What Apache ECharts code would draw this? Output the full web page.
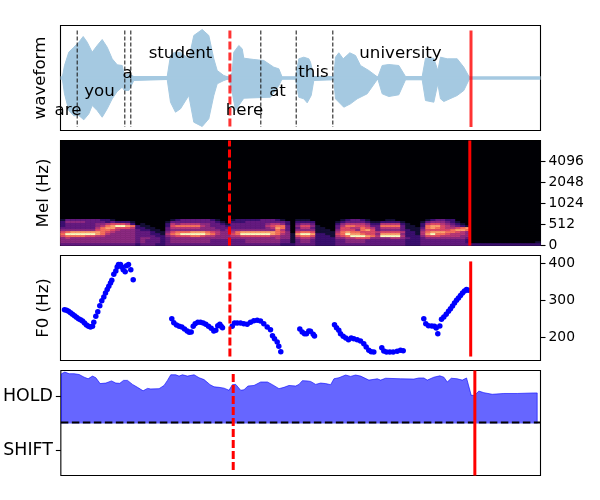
<!DOCTYPE html>
<html><head><meta charset="utf-8">
<style>html,body{margin:0;padding:0;background:#fff}#c{width:600px;height:500px}</style>
<script src="https://cdn.jsdelivr.net/npm/echarts@6/dist/echarts.min.js"></script>
</head><body><div id="c"></div>
<script>
// time axis in frames, 0..480
const waveUpper=[[1.7,0],[4,12.5],[8.3,25.8],[13.3,30.8],[18.3,35.8],[22.7,41.5],[26.7,35.8],[31.7,25.8],[36.7,32.5],[41.7,38.5],[46.7,30.8],[51.7,19.2],[56.7,13.2],[61.7,12.5],[64,2.5],[68.3,4.2],[73.3,1.5],[106.7,1.5],[110,22.5],[113.3,25.2],[120,25.8],[128.3,19.2],[133.3,42.5],[141.7,48.5],[148.3,42.5],[153.3,19.2],[156.7,7.5],[163.3,2.5],[168.3,0.8],[171.7,5.8],[173.3,25.8],[178.3,32.5],[181.7,29.2],[183.3,19.8],[193.3,18.5],[203.3,17.5],[213.3,10.8],[218.3,9.2],[221.7,0.8],[235,0.8],[238.3,19.2],[243.3,20.8],[248.3,19.2],[250,15.8],[253.3,1.5],[273.3,1.5],[275,20.8],[278.3,25.2],[282.7,19.2],[289.3,25.2],[295,22.5],[300,12.5],[308.3,7.5],[317.3,0.8],[321.7,12.5],[328.3,13.5],[338.3,12.5],[345,1.5],[361.7,1.5],[365,19.8],[373.3,19.8],[377.3,7.5],[380,20.8],[386.7,19.2],[396.7,19.2],[403.3,10.8],[409.3,0]];
const waveLower=[[1.7,0],[4,-15.8],[8.3,-32.5],[13.3,-37.8],[18.3,-37.5],[23.3,-41.8],[28.3,-35.8],[31.7,-27.5],[36.7,-32.5],[41.7,-39.2],[46.7,-30.8],[51.7,-20.8],[56.7,-13.5],[61.7,-9.2],[64,-12.5],[68.3,-12.5],[73.3,-2.5],[106.7,-1.5],[110,-24.2],[115,-34.2],[120,-30.8],[128.3,-17.5],[133.3,-44.2],[141.7,-48.5],[148.3,-40.8],[153.3,-17.5],[156.7,-5.8],[163.3,-2.5],[168.3,-0.8],[171.7,-14.2],[175,-32.5],[178.3,-27.5],[183.3,-20.2],[210,-19.2],[218.3,-7.5],[221.7,-0.8],[235,-0.8],[238.3,-19.2],[243.3,-20.8],[246.7,-24.8],[250.7,-17.5],[253.3,-2.5],[273.3,-1.8],[275,-20.8],[283.3,-29.2],[290,-25.8],[296.7,-20.8],[306.7,-15.8],[317.3,-0.8],[321.7,-15.8],[328.3,-18.5],[338.3,-16.8],[345,-1.8],[361.7,-1.8],[365,-22.5],[373.3,-24.2],[377.3,-5.8],[380,-20.8],[383.3,-23.5],[396.7,-17.5],[403.3,-12.5],[409.3,0]];
const waveSilence=[[0,0],[480,0]];
const wordNames=['are','you','a','student','here','at','this','university'];
const wordX=[7.5,39,67,120,184,217,253,340];
const wordAmp=[-32.5,-13.5,4.5,24.5,-32.5,-13.5,5.5,24.5];
const wordBounds=[16.7,64.3,70.3,200.3,235.7,272.3];
const ampRange=[-52.5,52.5];

// mel spectrogram intensity, top row first, grouped by speech segment (0 dark .. 9 bright)
const melRows=[
'1333333322100000 00000 0123333332100 122222333210 0 1110 0000 01233210 001100 000 0123322000 00000000000000',
'2444433332322210 00000 1333333333210 222333333332 0 2222 0000 12333321 122221 000 1344432100 00000000000000',
'2333333445666520 10000 2545555443321 333333345542 0 3443 0000 24555542 255552 100 2566543210 00000000000000',
'2333333457899872 11000 2677777543332 333333356773 0 4664 1000 35776653 377773 110 2788654321 00000000000000',
'3333333578866652 21100 3555555444333 333333345873 0 3553 1100 36655765 355553 111 3787655678 00000000000000',
'4444444677654443 22110 3444444444434 444444444753 0 4444 1110 46664786 344443 211 4666667887 00000000000000',
'6788888876544443 33211 4677788876544 578888888764 0 6776 1111 57877666 566665 221 5788877654 00000000000000',
'7999999875444443 33221 5789999987544 679999998754 1 8998 2211 67988766 488884 221 5897765554 00000000000000',
'6777766554444443 33322 4566677655444 556666665544 1 6776 2221 56799987 599995 222 4666555544 00000000000000',
'4544444444444443 44332 3444444444444 444444444544 1 4554 2222 44556664 444554 322 3444444443 00000000000000',
'4444444444444443 43332 3444444443333 333444444433 1 3443 2222 33444433 333333 222 3333333332 00000000000000',
'4444444444444443 43332 3444444443333 333444444433 1 3443 2222 33444433 333333 222 3333333332 00000000000001',
'3333333333333332 33322 3333333333333 333333333322 2 3333 2222 33333333 333333 222 3333333333 22222222222222'
];
const melTickPos=[0,21.5,42,63,84];
const melTickLabels=['0','512','1024','2048','4096'];
const magma=['#000004','#140e36','#3b0f70','#641a80','#8c2981','#b73779','#de4968','#f7705c','#fe9f6d','#fcfdbf'];

const f0Points=[[4,274.7],[6,272.9],[8,270.2],[10,266.6],[12,262.1],[14,258.5],[16,254],[18,250.4],[20,247.7],[22,244.1],[24,238.7],[26,233.3],[28,229.7],[30,227.9],[32,229.7],[33.3,240.5],[35.3,256.7],[37.3,269.3],[39.3,285.5],[41.3,299],[43.3,309],[45,319.8],[46.7,328.8],[48.3,337.8],[50,346.8],[51.3,354],[53.3,370.2],[55.3,379.2],[56.7,390],[58,396.4],[60,396.4],[61.3,390],[62.7,382.8],[64.7,377.4],[66,393.6],[68,396.4],[70.3,382.8],[72.7,355.8],
[111.3,250.4],[113.3,239.6],[116,233.3],[118.7,229.7],[121.3,227.9],[124,222.5],[126.7,217],[128.7,213.4],[130.7,214.3],[132.7,229.7],[134.7,236.9],[137.3,240.5],[140,240.5],[142.7,238.7],[145.3,235.1],[148,229.7],[150.7,224.3],[153.3,217],[155.3,218.9],[157.3,231.5],[159.3,235.1],[160.7,229.7],[162,226],
[171.7,229.7],[174,238.7],[176.7,238.7],[180,238.7],[183.3,236.9],[186.7,235.1],[190,240.5],[193.3,245],[196.7,245.9],[200,244.1],[203.3,236.9],[206.7,227.9],[210,220.7],[212,204.4],[214,196.3],[216.7,187.3],[218.3,175.6],[220.3,161.2],
[239.3,222.5],[241.7,214.3],[244,209.8],[246,209.8],[248.3,217],[250,216.2],[252.7,208],[254,203.5],
[274,234.2],[276,226.1],[278.3,218.9],[280,209.8],[282.7,202.6],[285.3,198.1],[288,193.6],[290.7,198.1],[293.3,196.3],[296.7,193.6],[300,190],[303.3,182.8],[305.7,173.8],[308.3,164.8],[310.7,161.2],[313.3,160.3],
[321.3,172],[323.3,163],[326,160.3],[329.3,160.3],[332.7,160.3],[336.7,162.1],[340,164.8],[342.7,163.9],
[363.3,250.4],[365.3,236.9],[368,231.5],[371.3,230.6],[374,229.7],[375.7,225.2],[377.3,209.8],[379.3,230.6],[381,248.6],[383.3,254.9],[385.7,262.1],[388,270.2],[390,277.4],[392,284.6],[394,292.7],[396,300],[398,306.3],[400,312.6],[402,319.8],[404,325.2],[406,328.8],[407.7,327]];
const f0Ticks=[200,300,400];

const holdPoints=[[0.67,0],[0.67,1.86],[4,1.92],[8.3,1.86],[13.3,1.86],[18.3,1.83],[23.3,1.73],[27.3,1.67],[31.7,1.77],[35,1.71],[39.3,1.49],[45,1.51],[50.7,1.59],[55,1.51],[59,1.5],[62.7,1.61],[66.7,1.61],[71.7,1.46],[76.7,1.35],[82.3,1.22],[86.7,1.31],[90,1.29],[98.3,1.3],[103.3,1.42],[106.7,1.61],[110,1.82],[115,1.82],[118.3,1.77],[121.7,1.82],[126.7,1.77],[133.3,1.82],[138.3,1.71],[143.3,1.64],[149.3,1.45],[153.3,1.37],[158.3,1.35],[163.3,1.32],[168.3,1.24],[171.7,1.45],[175,1.46],[180,1.24],[183.3,1.26],[187.3,1.4],[193.3,1.42],[200,1.55],[206.7,1.55],[211.7,1.45],[218.3,1.3],[223.3,1.35],[228.3,1.42],[235,1.4],[238.3,1.46],[241.7,1.6],[246.7,1.59],[250,1.57],[255,1.46],[260,1.51],[265,1.49],[270,1.45],[273.3,1.67],[278.3,1.71],[285,1.81],[290,1.76],[295,1.81],[300,1.77],[308.3,1.62],[316.7,1.67],[320,1.62],[325,1.69],[340,1.67],[353.3,1.66],[358.3,1.7],[363.3,1.7],[366.7,1.62],[373.3,1.73],[379.3,1.78],[383.3,1.73],[386.7,1.55],[390.7,1.69],[396.7,1.67],[401.7,1.62],[406,1.7],[410.7,1.05],[414,1.05],[418.3,1.21],[423.3,1.15],[431.7,1.09],[443.3,1.12],[456.7,1.12],[473.3,1.14],[476.7,1.14],[476.7,0]];
const stateLabels=['SHIFT','HOLD'];
const stateTicks=[-1,1];

// pointer times per panel
const startX=[169.4,169,169.4,172.5];
const endX=[410.5,409.3,410.2,414.3];

const FONT='"DejaVu Sans"';
const grids=[25,140,255,370].map((t,i)=>({left:60.5,top:t+0.5,width:480,height:105,show:true,borderColor:'#000',borderWidth:1.1,backgroundColor:i===1?'#000004':'#fff',containLabel:false}));
const hiddenX=g=>({type:'value',gridIndex:g,min:0,max:480,show:false});
const xAxis=[hiddenX(0),hiddenX(1),{type:'category',gridIndex:1,data:Array.from({length:96},(_,i)=>i),show:false},hiddenX(2),hiddenX(3)];
const common={type:'value',splitLine:{show:false},axisLine:{show:false,onZero:false}};
const tick={show:true,length:5,lineStyle:{color:'#000',width:1.1}};
const yAxis=[
 {...common,gridIndex:0,min:ampRange[0],max:ampRange[1],show:false},
 {...common,gridIndex:1,min:0,max:105,position:'right',axisTick:{...tick,customValues:melTickPos},
  axisLabel:{customValues:melTickPos,fontFamily:FONT,fontSize:13.89,color:'#000',margin:8,formatter:v=>melTickLabels[melTickPos.indexOf(v)]}},
 {type:'category',gridIndex:1,data:Array.from({length:52},(_,i)=>i),show:false},
 {...common,gridIndex:2,min:137.3,max:421,position:'right',axisTick:{...tick,customValues:f0Ticks},
  axisLabel:{customValues:f0Ticks,fontFamily:FONT,fontSize:13.89,color:'#000',margin:8}},
 {...common,gridIndex:3,min:-1.95,max:1.98,position:'left',axisTick:{...tick,customValues:stateTicks},
  axisLabel:{customValues:stateTicks,fontFamily:FONT,fontSize:17.4,color:'#000',margin:8,formatter:v=>v>0?stateLabels[1]:stateLabels[0]}}
];
const vline=(xi,yi,x,y0,y1,dash,op)=>({type:'line',xAxisIndex:xi,yAxisIndex:yi,data:[[x,y0],[x,y1]],symbol:'none',silent:true,z:6,animation:false,
  lineStyle:{color:'#f00',width:3,type:dash?[8,3]:'solid',opacity:op,cap:'butt'}});
const melData=[];
melRows.forEach((row,i)=>{const s=row.replace(/ /g,'');for(let c=0;c<s.length;c++){melData.push([c,12-i,+s[c]]);}});
const WAVE='#a5c9e1';
const series=[
 {type:'line',xAxisIndex:0,yAxisIndex:0,data:waveSilence,symbol:'none',lineStyle:{color:WAVE,width:3.5}},
 {type:'line',xAxisIndex:0,yAxisIndex:0,data:waveUpper,symbol:'none',lineStyle:{color:WAVE,width:1},areaStyle:{color:WAVE,opacity:1}},
 {type:'line',xAxisIndex:0,yAxisIndex:0,data:waveLower,symbol:'none',lineStyle:{color:WAVE,width:1},areaStyle:{color:WAVE,opacity:1}},
 ...wordBounds.map(x=>({type:'line',xAxisIndex:0,yAxisIndex:0,data:[[x,47.5],[x,-49]],symbol:'none',z:5,lineStyle:{color:'#222',width:1.1,type:[4,2]}})),
 {type:'scatter',xAxisIndex:0,yAxisIndex:0,symbolSize:0,z:7,data:wordNames.map((w,i)=>[wordX[i],wordAmp[i],w]),
  label:{show:true,position:'inside',formatter:p=>p.data[2],fontFamily:FONT,fontSize:16.67,color:'#000',opacity:1,textBorderWidth:0}},
 vline(0,0,startX[0],47.5,-49,true,0.8),vline(0,0,endX[0],47.5,-49,false,0.8),
 {type:'heatmap',xAxisIndex:2,yAxisIndex:2,data:melData,z:2,itemStyle:{borderWidth:0}},
 vline(1,1,startX[1],0,105,true,1),vline(1,1,endX[1],0,105,false,1),
 {type:'scatter',xAxisIndex:3,yAxisIndex:3,data:f0Points,symbolSize:5.5,itemStyle:{color:'#0000ff',opacity:1}},
 vline(3,3,startX[2],148,405,true,1),vline(3,3,endX[2],148,405,false,1),
 {type:'line',xAxisIndex:4,yAxisIndex:4,data:holdPoints,symbol:'none',lineStyle:{color:'#0000ff',width:1,opacity:0.6},areaStyle:{color:'#0000ff',opacity:0.6}},
 {type:'line',xAxisIndex:4,yAxisIndex:4,data:[[0,0.03],[480,0.03]],symbol:'none',z:5,lineStyle:{color:'#000',width:2,type:[7.5,3.5]}},
 vline(4,4,startX[3],1.85,-1.85,true,1),vline(4,4,endX[3],1.98,-1.95,false,1)
];
const yLabel=(t,x,y)=>({type:'text',x:x,y:y,rotation:Math.PI/2,z:20,style:{text:t,x:0,y:0,align:'center',verticalAlign:'middle',font:'16.67px '+FONT,fill:'#000'}});
const chart=echarts.init(document.getElementById('c'),null,{renderer:'canvas'});
chart.setOption({animation:false,grid:grids,xAxis,yAxis,series,
 visualMap:{show:false,type:'continuous',min:0,max:9,seriesIndex:series.findIndex(s=>s.type==='heatmap'),dimension:2,inRange:{color:magma}},
 graphic:[yLabel('waveform',40.5,78),yLabel('Mel (Hz)',43.5,193),yLabel('F0 (Hz)',43.5,308)]});
</script></body></html>
